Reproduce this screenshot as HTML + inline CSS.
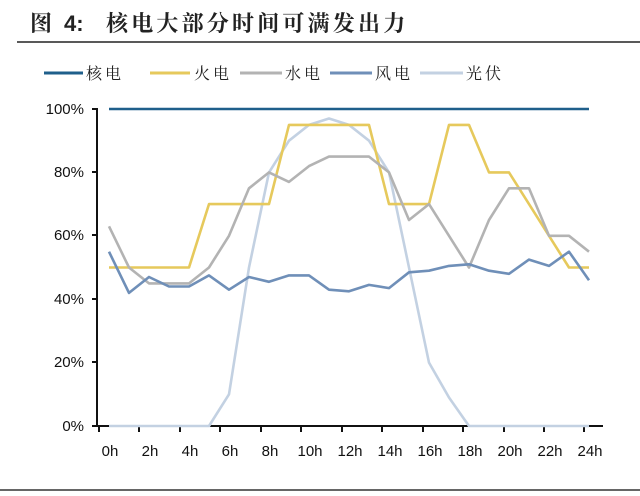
<!DOCTYPE html>
<html><head><meta charset="utf-8"><style>
body{margin:0;background:#fff;}
svg{display:block;font-family:"Liberation Sans","Noto Sans CJK SC",sans-serif;}
</style></head><body>
<svg width="640" height="496" viewBox="0 0 640 496" xmlns="http://www.w3.org/2000/svg">
<g font-size="22" font-weight="bold" fill="#222" font-family="'Liberation Sans','Noto Serif CJK SC',serif">
<text x="30" y="31">图</text>
<text x="64" y="31">4:</text>
<text x="106" y="31" letter-spacing="3.2">核电大部分时间可满发出力</text>
</g>
<line x1="17" y1="42" x2="640" y2="42" stroke="#222" stroke-width="1.5"/>
<g font-size="16" fill="#222" letter-spacing="3" font-family="'Liberation Sans','Noto Serif CJK SC',serif">
<line x1="44" y1="73" x2="83" y2="73" stroke="#1f5f8b" stroke-width="3"/><text x="86" y="79">核电</text>
<line x1="150" y1="73" x2="190" y2="73" stroke="#e6c95c" stroke-width="3"/><text x="194" y="79">火电</text>
<line x1="240" y1="73" x2="282" y2="73" stroke="#b3b3b3" stroke-width="3"/><text x="285" y="79">水电</text>
<line x1="330" y1="73" x2="372" y2="73" stroke="#6f8fb8" stroke-width="3"/><text x="375" y="79">风电</text>
<line x1="420" y1="73" x2="463" y2="73" stroke="#c3d1e2" stroke-width="3"/><text x="466" y="79">光伏</text>
</g>
<g font-size="15" fill="#111" text-anchor="end">
<text x="84" y="114">100%</text><text x="84" y="177">80%</text><text x="84" y="240">60%</text>
<text x="84" y="304">40%</text><text x="84" y="367">20%</text><text x="84" y="431">0%</text>
</g>
<g stroke="#111" stroke-width="2">
<line x1="97" y1="108" x2="97" y2="427"/>
<line x1="97" y1="426" x2="603" y2="426"/>
<line x1="92" y1="109" x2="97" y2="109"/><line x1="92" y1="172" x2="97" y2="172"/>
<line x1="92" y1="235" x2="97" y2="235"/><line x1="92" y1="299" x2="97" y2="299"/>
<line x1="92" y1="362" x2="97" y2="362"/><line x1="92" y1="426" x2="97" y2="426"/>
<path d="M99 426v6M139 426v6M180 426v6M220 426v6M261 426v6M301 426v6M342 426v6M382 426v6M423 426v6M463 426v6M504 426v6M544 426v6M584 426v6"/>
</g>
<g font-size="15" fill="#111" text-anchor="middle">
<text x="110" y="456">0h</text><text x="150" y="456">2h</text><text x="190" y="456">4h</text><text x="230" y="456">6h</text>
<text x="270" y="456">8h</text><text x="310" y="456">10h</text><text x="350" y="456">12h</text><text x="390" y="456">14h</text>
<text x="430" y="456">16h</text><text x="470" y="456">18h</text><text x="510" y="456">20h</text><text x="550" y="456">22h</text><text x="590" y="456">24h</text>
</g>
<g fill="none" stroke-width="2.6" stroke-linejoin="round">
<polyline id="solar" stroke="#c3d1e2" points=""/>
<polyline id="coal" stroke="#e6c95c" points=""/>
<polyline id="hydro" stroke="#b3b3b3" points=""/>
<polyline id="wind" stroke="#6f8fb8" points=""/>
<line x1="109" y1="109" x2="589" y2="109" stroke="#1f5f8b"/>
</g>
<line x1="0" y1="490" x2="640" y2="490" stroke="#333" stroke-width="1.5"/>
</svg>
<script>
var d={
solar:[0,0,0,0,0,0,10,50,80,90,95,97,95,90,80,50,20,9,0,0,0,0,0,0,0],
coal:[50,50,50,50,50,70,70,70,70,95,95,95,95,95,70,70,70,95,95,80,80,70,60,50,50],
hydro:[63,50,45,45,45,50,60,75,80,77,82,85,85,85,80,65,70,60,50,65,75,75,60,60,55],
wind:[55,42,47,44,44,47.5,43,47,45.5,47.5,47.5,43,42.5,44.5,43.5,48.5,49,50.5,51,49,48,52.5,50.5,55,46]};
for(var k in d){document.getElementById(k).setAttribute('points',d[k].map(function(v,i){return (109+20*i)+','+(426-3.17*v).toFixed(1)}).join(' '));}
</script>
</body></html>
